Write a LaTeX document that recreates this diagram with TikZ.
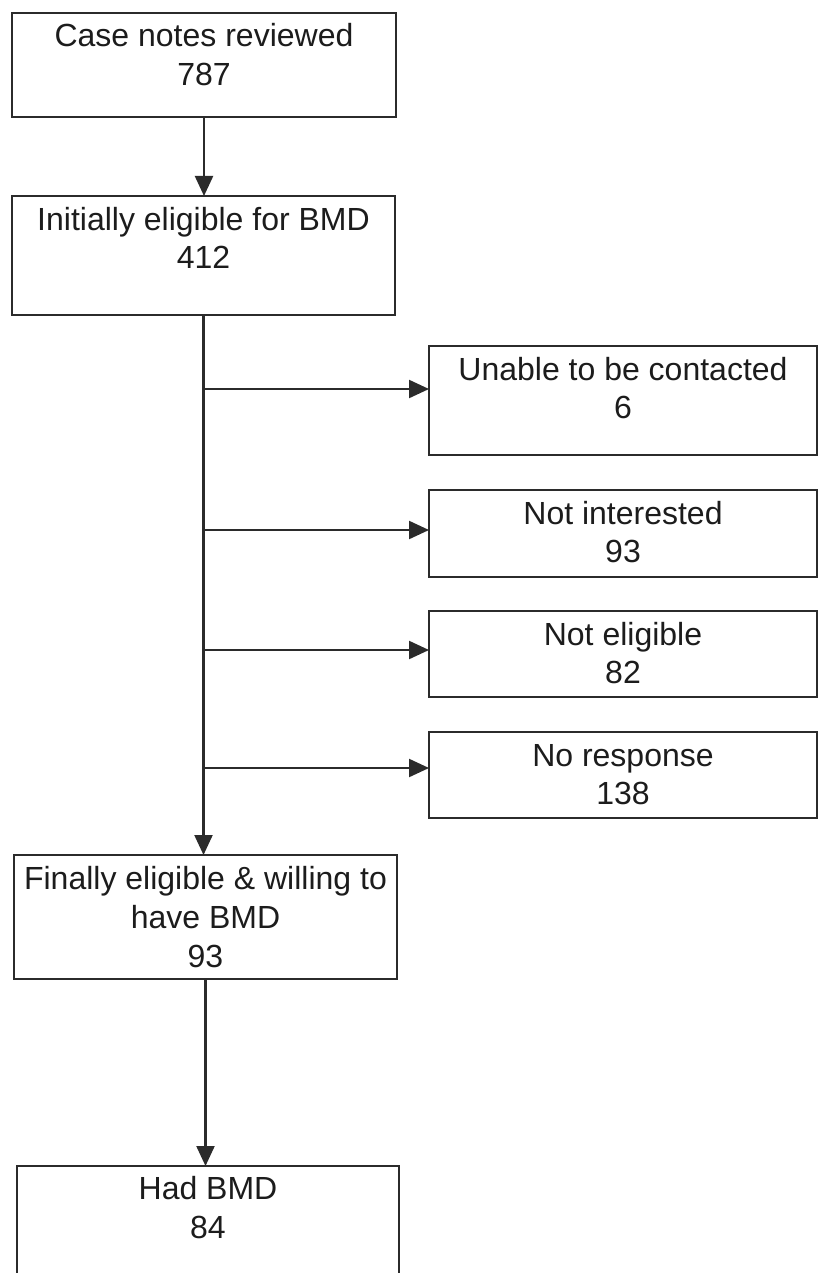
\documentclass[tikz,border=0pt]{standalone}
\usepackage{fontspec}
\setmainfont{Liberation Sans}
\usetikzlibrary{arrows.meta}

\definecolor{linec}{HTML}{2B2B2B}
\definecolor{textc}{HTML}{1C1C1C}

% #1 width, #2 height, #3 depth of the first baseline below the top edge, #4 text
\newcommand{\flowtext}[4]{\parbox[t][#2][t]{#1}{\centering\rule{0pt}{#3}#4}}

\tikzset{
  stagebox/.style={draw=linec, line width=2.2pt, inner sep=0pt, outer sep=0pt,
    anchor=north west, text=textc, font=\fontsize{32}{39}\selectfont},
  flow/.style={draw=linec, line width=2.2pt,
    -{Triangle[length=20pt,width=18pt]}},
}

\begin{document}
\begin{tikzpicture}[x=1pt,y=-1pt]
\useasboundingbox (0,0) rectangle (818,1273);
\fill[white] (0,0) rectangle (818,1273);
\clip (0,0) rectangle (818,1273);

% main column
\node[stagebox] (b1) at (12,13)
  {\flowtext{384pt}{104pt}{34pt}{Case notes reviewed\\787}};
\node[stagebox, font=\fontsize{32}{38}\selectfont] (b2) at (12,196)
  {\flowtext{383pt}{119pt}{34pt}{Initially eligible for BMD\\412}};
\node[stagebox] (b3) at (14,855)
  {\flowtext{383pt}{124pt}{34pt}{Finally eligible \& willing to\\have BMD\\93}};
\node[stagebox] (b4) at (17,1166)
  {\flowtext{382pt}{140pt}{33pt}{Had BMD\\84}};

% exclusions
\node[stagebox, font=\fontsize{32}{38}\selectfont] (sA) at (429,346)
  {\flowtext{388pt}{109pt}{34pt}{Unable to be contacted\\6}};
\node[stagebox, font=\fontsize{32}{38}\selectfont] (sB) at (429,490)
  {\flowtext{388pt}{87pt}{34pt}{Not interested\\93}};
\node[stagebox, font=\fontsize{32}{38}\selectfont] (sC) at (429,611)
  {\flowtext{388pt}{86pt}{34pt}{Not eligible\\82}};
\node[stagebox, font=\fontsize{32}{38}\selectfont] (sD) at (429,732)
  {\flowtext{388pt}{86pt}{34pt}{No response\\138}};

% junctions on the trunk
\coordinate (jA) at (b2.south |- 0,389);
\coordinate (jB) at (b2.south |- 0,530);
\coordinate (jC) at (b2.south |- 0,650);
\coordinate (jD) at (b2.south |- 0,768);

% connectors
\draw[flow] (b1.south) -- (b1.south |- b2.north);
\draw[flow] (b2.south) -- (b2.south |- b3.north);
\draw[flow] (jA) -- (jA -| sA.west);
\draw[flow] (jB) -- (jB -| sB.west);
\draw[flow] (jC) -- (jC -| sC.west);
\draw[flow] (jD) -- (jD -| sD.west);
\draw[flow] (b3.south) -- (b3.south |- b4.north);
\end{tikzpicture}
\end{document}
